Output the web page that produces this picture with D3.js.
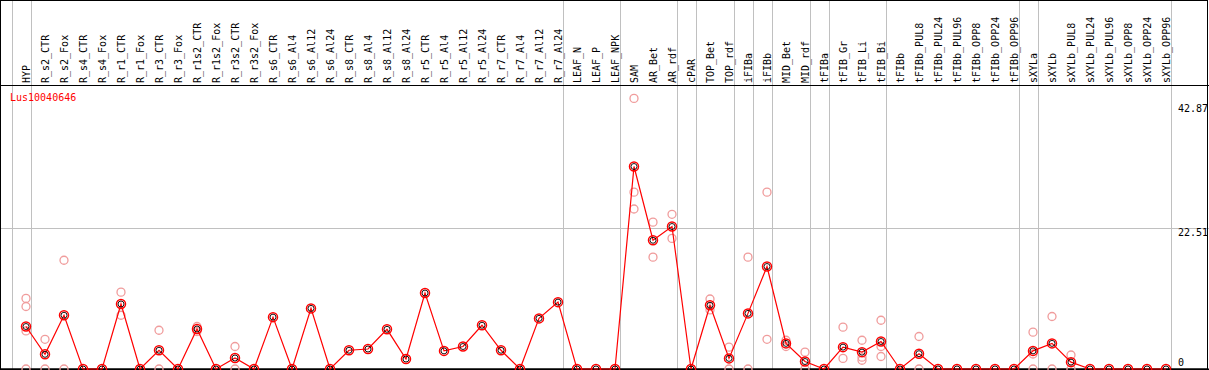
<!DOCTYPE html>
<html>
<head>
<meta charset="utf-8">
<script src="https://cdn.jsdelivr.net/npm/d3@7"></script>
<style>
  body { margin: 0; background: #fff; }
  text { font-family: "DejaVu Sans Mono", monospace; font-size: 10px; }
</style>
</head>
<body>
<svg width="1209" height="370"></svg>
<script>
// sample names across the top
const labels = ["HYP", "R_s2_CTR", "R_s2_Fox", "R_s4_CTR", "R_s4_Fox", "R_r1_CTR", "R_r1_Fox",
  "R_r3_CTR", "R_r3_Fox", "R_r1s2_CTR", "R_r1s2_Fox", "R_r3s2_CTR", "R_r3s2_Fox",
  "R_s6_CTR", "R_s6_Al4", "R_s6_Al12", "R_s6_Al24", "R_s8_CTR", "R_s8_Al4", "R_s8_Al12", "R_s8_Al24",
  "R_r5_CTR", "R_r5_Al4", "R_r5_Al12", "R_r5_Al24", "R_r7_CTR", "R_r7_Al4", "R_r7_Al12", "R_r7_Al24",
  "LEAF_N", "LEAF_P", "LEAF_NPK", "SAM", "AR_Bet", "AR_rdf", "cPAR", "TOP_Bet", "TOP_rdf",
  "iFIBa", "iFIBb", "MID_Bet", "MID_rdf", "tFIBa", "tFIB_Gr", "tFIB_Li", "tFIB_Bi",
  "tFIBb", "tFIBb_PUL8", "tFIBb_PUL24", "tFIBb_PUL96", "tFIBb_OPP8", "tFIBb_OPP24", "tFIBb_OPP96",
  "sXYLa", "sXYLb", "sXYLb_PUL8", "sXYLb_PUL24", "sXYLb_PUL96", "sXYLb_OPP8", "sXYLb_OPP24", "sXYLb_OPP96"];

// first sample of every group (a grey separator goes before each)
const groupStarts = ["HYP", "R_s2_CTR", "LEAF_N", "SAM", "cPAR", "TOP_Bet", "iFIBa", "iFIBb",
  "MID_Bet", "tFIBa", "tFIB_Gr", "tFIBb", "sXYLa", "sXYLb"];

// mean expression per sample
const means = [6.8, 2.35, 8.6, 0, 0, 10.4, 0, 3.0, 0, 6.4, 0, 1.76, 0,
  8.3, 0, 9.7, 0, 3.0, 3.2, 6.35, 1.6, 12.15, 2.9, 3.6, 7.0, 3.0, 0, 8.1, 10.7,
  0, 0, 0, 32.4, 20.6, 22.8, 0, 10.2, 1.7, 8.9, 16.4, 4.1, 1.2, 0, 3.5, 2.7, 4.4,
  0, 2.45, 0, 0, 0, 0, 0, 2.9, 4.1, 1.1, 0, 0, 0, 0, 0];

// replicate values (only the ones that can be seen)
const replicates = {
  "HYP": [11.3, 10.0, 6.1, 0],
  "R_s2_CTR": [4.75, 0],
  "R_s2_Fox": [17.4, 0],
  "R_r1_CTR": [12.3, 8.6],
  "R_r3_CTR": [6.2, 0],
  "R_r1s2_CTR": [6.8, 6.0],
  "R_r3s2_CTR": [3.6, 0],
  "SAM": [43.3, 28.3, 25.6],
  "AR_Bet": [23.5, 17.9],
  "AR_rdf": [24.75, 20.9],
  "TOP_Bet": [11.2, 9.45],
  "TOP_rdf": [3.5, 0],
  "iFIBa": [17.9, 0],
  "iFIBb": [28.3, 4.75],
  "MID_Bet": [4.6, 3.6],
  "MID_rdf": [2.7, 0],
  "tFIB_Gr": [6.7, 1.7],
  "tFIB_Li": [4.6, 1.9, 1.4],
  "tFIB_Bi": [7.8, 3.6, 2.0],
  "tFIBb_PUL8": [5.2, 0],
  "sXYLa": [5.9, 2.4, 0],
  "sXYLb": [8.4, 0],
  "sXYLb_PUL8": [2.24, 0]
};

const yTicks = [0, 22.51, 42.87];
const geneName = "Lus10040646";

const W = 1209, H = 370;
const svg = d3.select("svg");

const x = d3.scalePoint().domain(labels).range([26, 1166]);
const y = d3.scaleLinear().domain([0, 45.44]).range([369, 85]);

// horizontal grid line (only the middle tick has one)
svg.append("line")
  .attr("x1", 0).attr("x2", W)
  .attr("y1", Math.round(y(22.51)) + 0.5).attr("y2", Math.round(y(22.51)) + 0.5)
  .attr("stroke", "#c0c0c0");

// group separators, full height
const sepX = groupStarts.map(g => x(g) - 14.3).concat([x(labels[labels.length - 1]) + 4.7]);
svg.selectAll("line.sep").data(sepX).enter()
  .append("line")
    .attr("class", "sep")
    .attr("x1", d => Math.round(d) + 0.5).attr("x2", d => Math.round(d) + 0.5)
    .attr("y1", 0).attr("y2", H)
    .attr("stroke", "#c0c0c0");

// header labels, rotated
svg.selectAll("text.lab").data(labels).enter()
  .append("text")
    .attr("class", "lab")
    .attr("transform", d => `translate(${x(d) + 4},83) rotate(-90)`)
    .attr("fill", "#000")
    .text(d => d);

// frame + header rule
svg.append("rect").attr("x", 0.5).attr("y", 0.5).attr("width", W - 2).attr("height", H - 1.5)
  .attr("fill", "none").attr("stroke", "#000");
svg.append("line").attr("x1", 0).attr("x2", W).attr("y1", 85.5).attr("y2", 85.5)
  .attr("stroke", "#000");
svg.append("line").attr("x1", 0).attr("x2", W).attr("y1", 369.5).attr("y2", 369.5)
  .attr("stroke", "#000").attr("stroke-width", 2);

// y labels on the right
svg.selectAll("text.ytick").data(yTicks).enter()
  .append("text")
    .attr("class", "ytick")
    .attr("x", 1178)
    .attr("y", d => Math.min(Math.max(y(d) + 8, 112), 366))
    .text(d => d === 0 ? "0" : d.toFixed(2));

svg.append("text").attr("x", 10).attr("y", 101).attr("fill", "red").text(geneName);

// replicate points
const repPts = [];
Object.entries(replicates).forEach(([k, vals]) => vals.forEach(v => repPts.push({ k, v })));
svg.selectAll("circle.rep").data(repPts).enter()
  .append("circle")
    .attr("class", "rep")
    .attr("cx", d => x(d.k)).attr("cy", d => y(d.v))
    .attr("r", 4)
    .attr("fill", "none")
    .attr("stroke", "#f09c9c")
    .attr("stroke-width", 1.3);

// line through the means
const line = d3.line().x((d, i) => x(labels[i])).y(d => y(d));
svg.append("path")
  .datum(means)
  .attr("d", line)
  .attr("fill", "none")
  .attr("stroke", "red")
  .attr("stroke-width", 1.2);

// mean markers
const g = svg.selectAll("g.mean").data(means).enter()
  .append("g").attr("class", "mean")
  .attr("transform", (d, i) => `translate(${x(labels[i])},${y(d)})`);
g.append("circle").attr("r", 4.5).attr("fill", "none").attr("stroke", "red").attr("stroke-width", 1.5);
g.append("circle").attr("r", 3).attr("fill", "none").attr("stroke", "#000").attr("stroke-width", 0.9);
</script>
</body>
</html>
